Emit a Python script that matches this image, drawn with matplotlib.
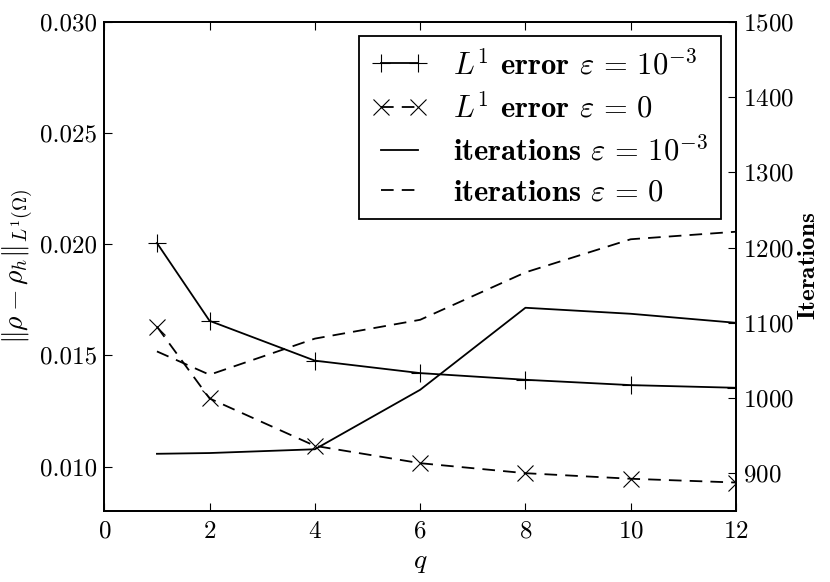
import numpy as np
import matplotlib
matplotlib.use("Agg")
import matplotlib.pyplot as plt

# Datos

q = [1, 2, 4, 6, 8, 10, 12]
error_eps3 = [0.02005, 0.01655, 0.01476, 0.0142, 0.0139, 0.01366, 0.01354]
error_eps0 = [0.01629, 0.01306, 0.01093, 0.01015, 0.0097, 0.00945, 0.00928]
iter_eps3 = [926, 927, 932, 1011, 1120, 1112, 1100]
iter_eps0 = [1062, 1031, 1079, 1104, 1167, 1211, 1221]

plt.rcParams['font.family'] = 'serif'
plt.rcParams['font.serif'] = ['cmr10']
plt.rcParams['mathtext.fontset'] = 'cm'
plt.rcParams['axes.formatter.use_mathtext'] = True
plt.rcParams['xtick.direction'] = 'in'
plt.rcParams['ytick.direction'] = 'in'

guiones = (7, 4.5)

fig = plt.figure(figsize=(8.3, 5.82), dpi=100)
ax = fig.add_axes([104.3/830, 1 - 511/582, (736 - 104.3)/830, (511 - 21.7)/582])
ax2 = ax.twinx()

l1, = ax.plot(q, error_eps3, 'k-', marker='+', ms=13, mew=0.8, lw=1.3,
              label=r'$L^1$ $\mathbf{error}$ $\varepsilon\,=\,10^{-3}$')
l2, = ax.plot(q, error_eps0, 'k--', marker='x', ms=12, mew=0.8, lw=1.3,
              dashes=guiones, label=r'$L^1$ $\mathbf{error}$ $\varepsilon\,=\,0$')
l3, = ax2.plot(q, iter_eps3, 'k-', lw=1.3,
               label=r'$\mathbf{iterations}$ $\varepsilon\,=\,10^{-3}$')
l4, = ax2.plot(q, iter_eps0, 'k--', lw=1.3, dashes=guiones,
               label=r'$\mathbf{iterations}$ $\varepsilon\,=\,0$')

ax.set_xlim(0, 12)
ax.set_ylim(0.008, 0.030)
ax.set_yticks([0.010, 0.015, 0.020, 0.025, 0.030])
ax.set_yticklabels(['0.010', '0.015', '0.020', '0.025', '0.030'])
ax.set_xticks([0, 2, 4, 6, 8, 10, 12])
ax2.set_ylim(850, 1500)
ax2.set_yticks([900, 1000, 1100, 1200, 1300, 1400, 1500])

ax.tick_params(axis='x', top=True, labelsize=18, length=6, pad=7)
ax.tick_params(axis='y', labelsize=18, length=6, pad=5)
ax2.tick_params(axis='y', labelsize=18, length=6, pad=5)
for a in (ax, ax2):
    for s in a.spines.values():
        s.set_linewidth(1.3)

ax.set_xlabel(r'$q$', fontsize=20, labelpad=4)
ax.set_ylabel(r'$\|\rho - \rho_h\|_{L^1(\Omega)}$', fontsize=20, labelpad=4)
ax2.set_ylabel(r'$\mathbf{Iterations}$', fontsize=18, labelpad=3)

leg = ax2.legend(handles=[l1, l2, l3, l4], loc='upper right', fontsize=22,
                 fancybox=False, framealpha=1, edgecolor='k', numpoints=2,
                 handlelength=1.8, handletextpad=0.85, borderpad=0.42,
                 borderaxespad=0.48, labelspacing=0.4)
leg.get_frame().set_linewidth(1.3)

fig.savefig('out.png', dpi=100)
